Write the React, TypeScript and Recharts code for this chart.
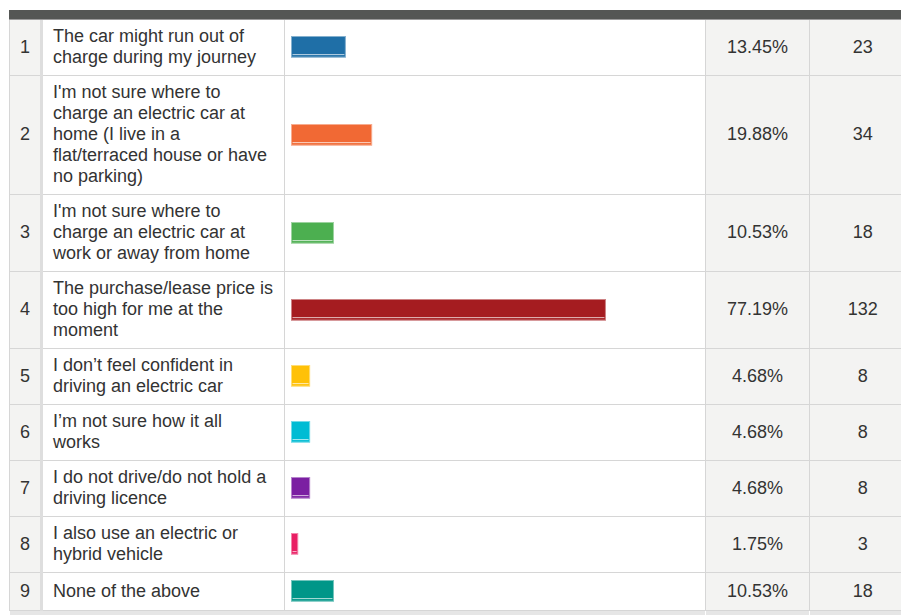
import { BarChart, Bar, XAxis, YAxis } from 'recharts';

const answers = [
  'The car might run out of\ncharge during my journey',
  "I'm not sure where to\ncharge an electric car at\nhome (I live in a\nflat/terraced house or have\nno parking)",
  "I'm not sure where to\ncharge an electric car at\nwork or away from home",
  'The purchase/lease price is\ntoo high for me at the\nmoment',
  'I don\u2019t feel confident in\ndriving an electric car',
  'I\u2019m not sure how it all\nworks',
  'I do not drive/do not hold a\ndriving licence',
  'I also use an electric or\nhybrid vehicle',
  'None of the above',
];

const percents = [13.45, 19.88, 10.53, 77.19, 4.68, 4.68, 4.68, 1.75, 10.53];
const counts = [23, 34, 18, 132, 8, 8, 8, 3, 18];

const barColors = [
  '#1f6fa7',
  '#f16934',
  '#4caf50',
  '#a51c20',
  '#ffc107',
  '#00bcd4',
  '#7b1fa2',
  '#e91e63',
  '#009688',
];

const border = '1px solid #d6d6d6';
const shade = '#f3f3f2';

interface ShapeProps {
  x?: number;
  y?: number;
  width?: number;
  height?: number;
  fill?: string;
}

function BarShape({ x = 0, y = 0, width = 0, height = 0, fill }: ShapeProps) {
  if (width <= 0) return null;
  return (
    <g>
      <rect x={x} y={y} width={width} height={height} fill={fill} />
      <rect
        x={x + 0.5}
        y={y + 0.5}
        width={width - 1}
        height={height - 1}
        fill="none"
        stroke="#fff"
        strokeOpacity={0.45}
      />
      <line
        x1={x + 1.5}
        x2={x + width - 1.5}
        y1={y + height - 3}
        y2={y + height - 3}
        stroke="#fff"
        strokeOpacity={0.7}
        strokeWidth={1}
      />
    </g>
  );
}

function RowBar({ index }: { index: number }) {
  const data = [{ name: answers[index], value: percents[index] }];
  return (
    <BarChart
      width={408}
      height={24}
      data={data}
      layout="vertical"
      margin={{ top: 0, right: 0, bottom: 0, left: 0 }}
    >
      <XAxis type="number" domain={[0, 100]} hide />
      <YAxis type="category" dataKey="name" hide />
      <Bar
        dataKey="value"
        fill={barColors[index]}
        barSize={24}
        isAnimationActive={false}
        shape={<BarShape />}
      />
    </BarChart>
  );
}

export default function App() {
  const cell: React.CSSProperties = {
    borderBottom: border,
    padding: '6px 0 7px',
    lineHeight: '21px',
    verticalAlign: 'middle',
  };
  return (
    <div
      style={{
        position: 'fixed',
        left: 0,
        top: 0,
        width: 901,
        height: 615,
        overflow: 'hidden',
        background: '#fff',
      }}
    >
      <style>{'html{overflow:hidden}'}</style>
      <div style={{ position: 'absolute', left: 9, top: 10 }}>
        <div
          style={{
            width: 906,
            height: 10,
            background: '#545654',
            borderBottom: '1px solid #9a9a9a',
            boxSizing: 'border-box',
          }}
        />
        <table
          style={{
            width: 906,
            tableLayout: 'fixed',
            borderCollapse: 'collapse',
            fontFamily: '"Liberation Sans", Arial, sans-serif',
            fontSize: 18,
            color: '#333',
          }}
        >
          <colgroup>
            <col style={{ width: 32 }} />
            <col style={{ width: 243 }} />
            <col style={{ width: 421 }} />
            <col style={{ width: 104 }} />
            <col style={{ width: 106 }} />
          </colgroup>
          <tbody>
            {answers.map((a, i) => (
              <tr key={a}>
                <td
                  style={{
                    ...cell,
                    background: shade,
                    textAlign: 'center',
                    borderLeft: border,
                    borderRight: '3px solid #dedede',
                  }}
                >
                  {i + 1}
                </td>
                <td
                  style={{
                    ...cell,
                    paddingLeft: 10,
                    paddingRight: 4,
                    borderRight: border,
                    whiteSpace: 'pre-line',
                  }}
                >
                  {a}
                </td>
                <td style={{ ...cell, paddingLeft: 6, borderRight: border }}>
                  <div style={{ height: 24 }}>
                    <RowBar index={i} />
                  </div>
                </td>
                <td style={{ ...cell, background: shade, textAlign: 'center', borderRight: border }}>
                  {percents[i].toFixed(2)}%
                </td>
                <td style={{ ...cell, background: shade, textAlign: 'center' }}>{counts[i]}</td>
              </tr>
            ))}
            <tr style={{ height: 14 }}>
              <td colSpan={3} style={{ background: '#e6e6e6', borderTop: '1px solid #dcdcdc' }} />
              <td
                style={{
                  background: '#e6e6e6',
                  borderLeft: '1px solid #fff',
                  borderRight: '1px solid #fff',
                }}
              />
              <td style={{ background: '#e6e6e6' }} />
            </tr>
          </tbody>
        </table>
      </div>
    </div>
  );
}
